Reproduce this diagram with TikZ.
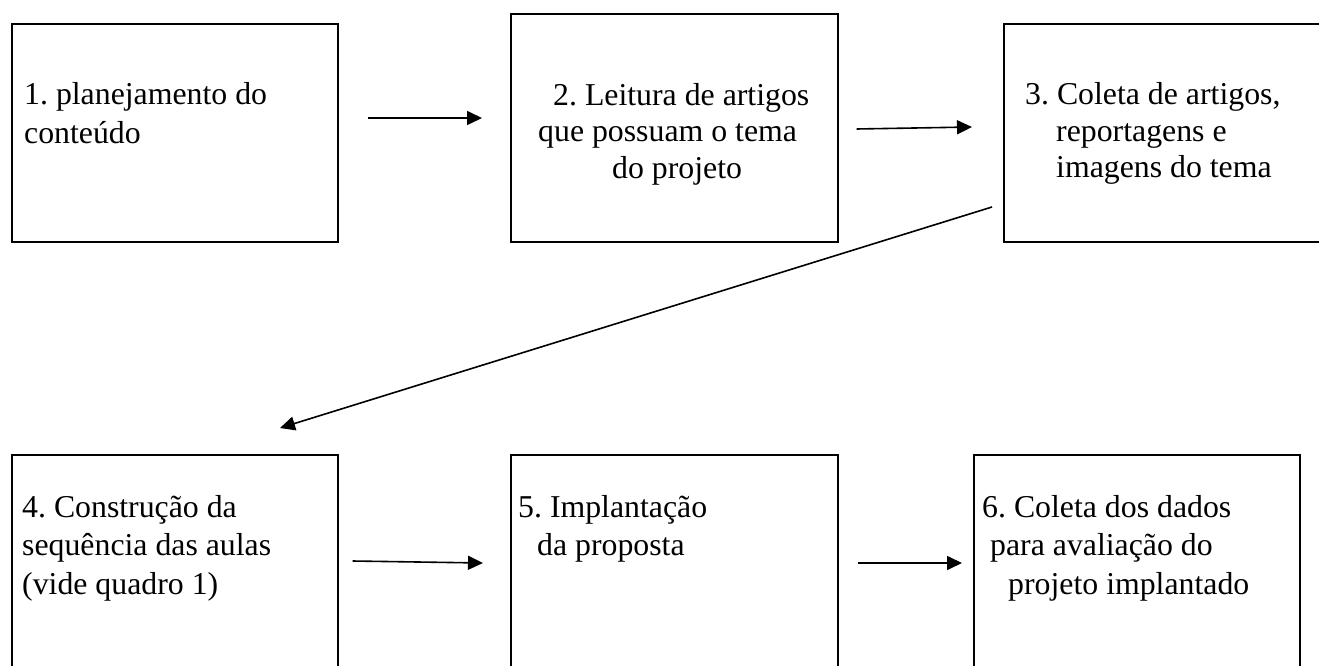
\documentclass[tikz,border=0pt]{standalone}
\usepackage{fontspec}
\setmainfont{Liberation Serif}
\usetikzlibrary{arrows.meta,calc}
\frenchspacing
\begin{document}
\begin{tikzpicture}[x=1pt,y=-1pt,
  box/.style={draw=black, line width=1.6pt, rectangle, inner sep=0pt, anchor=north west},
  txt/.style={anchor=base west, inner sep=0pt, font=\fontsize{31.8}{36}\selectfont},
  conn/.style={line width=1.6pt, -{Triangle[length=15pt,width=14pt]}}]
\clip (0,0) rectangle (1319,666);
\fill[white] (0,0) rectangle (1319,666);
% boxes
\node[box, minimum width=326pt, minimum height=218pt] (b1) at (11,23) {};
\node[box, minimum width=327pt, minimum height=228pt] (b2) at (510,13) {};
\node[box, minimum width=327pt, minimum height=218pt] (b3) at (1003,23) {};
\node[box, minimum width=326pt, minimum height=218pt] (b4) at (11,454) {};
\node[box, minimum width=327pt, minimum height=218pt] (b5) at (510,454) {};
\node[box, minimum width=326pt, minimum height=218pt] (b6) at (973,454) {};
% texts
\node[txt] (t1a) at (24,105) {1. planejamento do};
\node[txt] (t1b) at (24,143) {conteúdo};
\node[txt] (t2a) at (553,106) {2. Leitura de artigos};
\node[txt] (t2b) at (538,142) {que possuam o tema};
\node[txt] (t2c) at (612,178) {do projeto};
\node[txt] (t3a) at (1025,105) {3. Coleta de artigos,};
\node[txt] (t3b) at (1056,141) {reportagens e};
\node[txt] (t3c) at (1056,177) {imagens do tema};
\node[txt] (t4a) at (22,517) {4. Construção da};
\node[txt] (t4b) at (22,555) {sequência das aulas};
\node[txt] (t4c) at (22,594) {(vide quadro 1)};
\node[txt] (t5a) at (518,517) {5. Implantação};
\node[txt] (t5b) at (537,555) {da proposta};
\node[txt] (t6a) at (982,517) {6. Coleta dos dados};
\node[txt] (t6b) at (990,555) {para avaliação do};
\node[txt] (t6c) at (1008,594) {projeto implantado};
% connector end points
\coordinate (s12) at ($(b1.north east)+(29,95)$);
\coordinate (e12) at ($(b2.north west)+(-28,105)$);
\coordinate (s23) at ($(b2.north east)+(18,116)$);
\coordinate (e23) at ($(b3.north west)+(-31,104)$);
\coordinate (s34) at ($(b3.north west)+(-11,184)$);
\coordinate (e34) at ($(b4.north west)+(269,-26)$);
\coordinate (s45) at ($(b4.north east)+(14,107)$);
\coordinate (e45) at ($(b5.north west)+(-27,109)$);
\coordinate (s56) at ($(b5.north east)+(19,109)$);
\coordinate (e56) at ($(b6.north west)+(-11,109)$);
\draw[conn] (s12) -- (e12);
\draw[conn] (s23) -- (e23);
\draw[conn] (s34) -- (e34);
\draw[conn] (s45) -- (e45);
\draw[conn] (s56) -- (e56);
\end{tikzpicture}
\end{document}
